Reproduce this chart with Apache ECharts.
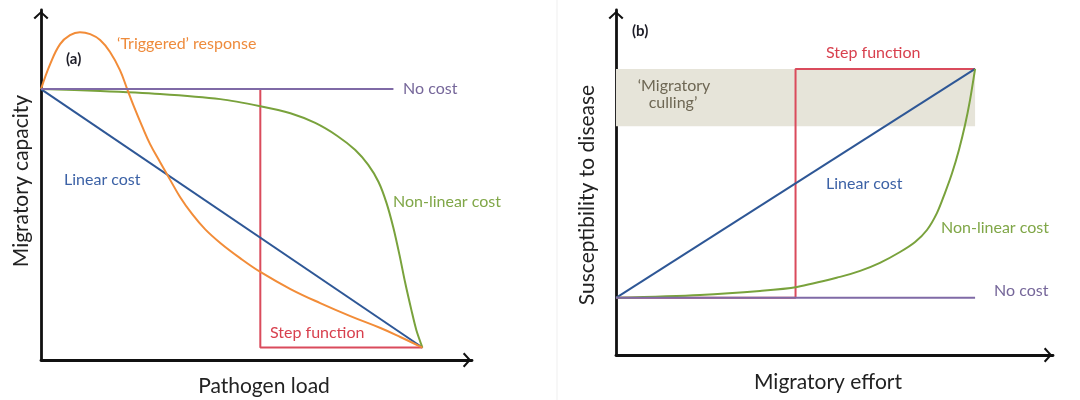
<!DOCTYPE html>
<html>
<head>
<meta charset="utf-8">
<script src="https://cdn.jsdelivr.net/npm/echarts@6.0.0/dist/echarts.min.js"></script>
<style>
  html, body { margin: 0; padding: 0; background: #fff; }
  #chart { width: 1080px; height: 400px; }
</style>
</head>
<body>
<div id="chart"></div>
<script>
// ---- Panel (a): migratory capacity against pathogen load ----
const aNoCost     = [[0, 10], [9.24, 10]];
const aLinear     = [[0, 10], [10, 0.46]];
const aStep       = [[5.75, 10], [5.75, 0.46], [10, 0.46]];
const aNonLinear  = [[0, 10], [1.55, 9.93], [3.12, 9.82], [4.7, 9.63], [5.75, 9.37], [6.54, 9.11],
                     [7.19, 8.75], [7.77, 8.27], [8.24, 7.75], [8.58, 7.2], [8.85, 6.57], [9.06, 5.79],
                     [9.24, 4.87], [9.4, 3.87], [9.55, 2.84], [9.71, 1.85], [9.84, 1.11], [10, 0.46]];
const aTriggered  = [[0, 10], [0.24, 10.92], [0.5, 11.66], [0.76, 11.99], [1.02, 12.1], [1.29, 12.03],
                     [1.55, 11.81], [1.81, 11.37], [2.07, 10.7], [2.26, 10.0], [2.44, 9.34], [2.65, 8.63],
                     [2.86, 7.97], [3.12, 7.31], [3.39, 6.64], [3.65, 6.01], [3.96, 5.39], [4.3, 4.83],
                     [4.7, 4.32], [5.22, 3.76], [5.75, 3.25], [6.54, 2.62], [7.32, 2.1], [8.11, 1.62],
                     [8.9, 1.18], [9.42, 0.85], [10, 0.46]];

// ---- Panel (b): susceptibility to disease against migratory effort ----
const bNoCost     = [[0, 2], [10, 2]];
const bLinear     = [[0, 2], [10, 10]];
const bStep       = [[0, 2], [5, 2], [5, 10], [10, 10]];
const bNonLinear  = [[0, 2], [2.34, 2.1], [4.01, 2.24], [5.04, 2.38], [6.24, 2.73], [6.8, 2.94],
                     [7.35, 3.22], [7.91, 3.6], [8.33, 3.95], [8.66, 4.37], [8.94, 4.97], [9.16, 5.66],
                     [9.36, 6.36], [9.55, 7.17], [9.72, 8.04], [9.86, 8.92], [10, 10]];
const bCullingX   = [0, 10];
const bCullingY   = [8, 10];

const COLORS = {
  orange: '#F28C38', purple: '#7F6AA6', blue: '#2E5796', green: '#79A23C', red: '#DA4B5C',
  band: '#E6E4D9', axis: '#111'
};
const TEXT = {
  orange: '#EE8B3C', purple: '#76679A', blue: '#3C62A6', green: '#80A748', red: '#D8404E',
  culling: '#6E6754', dark: '#1E1E28', title: '#222'
};

const FONT = 'Lato, "Open Sans", sans-serif';
// open chevron arrow head, pointing up in its own frame
const ARROW = 'path://M0,9 L10,0 L20,9 L18,11 L10,3.6 L2,11 Z';

function axis(gridIndex, max) {
  return {
    type: 'value', gridIndex, min: 0, max,
    axisLine: {
      show: true, onZero: false,
      lineStyle: { color: COLORS.axis, width: 2.8 },
      symbol: ['none', ARROW], symbolSize: [15, 10], symbolOffset: [0, -5]
    },
    axisTick: { show: false }, axisLabel: { show: false }, splitLine: { show: false }
  };
}

function line(name, data, color, xi, extra) {
  return Object.assign({
    type: 'line', name, data, xAxisIndex: xi, yAxisIndex: xi,
    showSymbol: false, symbol: 'none', silent: true,
    lineStyle: { color, width: 2 }, animation: false
  }, extra || {});
}

function label(x, y, text, color, opts) {
  return {
    type: 'text', x, y, z: 100,
    style: Object.assign({
      text, fill: color, font: '16px ' + FONT, align: 'left', verticalAlign: 'middle'
    }, opts || {})
  };
}

function title(x, y, text, vertical) {
  return {
    type: 'text', x, y, z: 100, rotation: vertical ? Math.PI / 2 : 0,
    style: { text, fill: TEXT.title, font: '21px ' + FONT, align: 'center', verticalAlign: 'middle' }
  };
}

const chart = echarts.init(document.getElementById('chart'), null, { renderer: 'canvas' });

chart.setOption({
  backgroundColor: '#fff',
  animation: false,
  grid: [
    { left: 41, top: 10, width: 431, height: 350 },
    { left: 616, top: 10, width: 437, height: 345 }
  ],
  xAxis: [axis(0, 11.3), axis(1, 12.17)],
  yAxis: [axis(0, 12.92), axis(1, 12.06)],
  series: [
    // panel (a)
    line('Step function', aStep, COLORS.red, 0),
    line('Linear cost', aLinear, COLORS.blue, 0),
    line('Non-linear cost', aNonLinear, COLORS.green, 0, { smooth: 0.3 }),
    line('Triggered response', aTriggered, COLORS.orange, 0, { smooth: 0.4, smoothConstraint: false }),
    line('No cost', aNoCost, COLORS.purple, 0),
    // panel (b)
    line('Step function', bStep, COLORS.red, 1, {
      markArea: {
        silent: true, itemStyle: { color: COLORS.band },
        data: [[{ coord: [bCullingX[0], bCullingY[0]] }, { coord: [bCullingX[1], bCullingY[1]] }]]
      },
      z: 2
    }),
    line('Linear cost', bLinear, COLORS.blue, 1, { z: 3 }),
    line('Non-linear cost', bNonLinear, COLORS.green, 1, { smooth: 0.3, z: 3 }),
    line('No cost', bNoCost, COLORS.purple, 1, { z: 4 })
  ],
  graphic: [
    // faint panel divider
    { type: 'line', z: 0, shape: { x1: 557, y1: 0, x2: 557, y2: 400 }, style: { stroke: '#efefef', lineWidth: 1 } },
    // axis titles
    title(264, 386, 'Pathogen load'),
    title(21, 181, 'Migratory capacity', true),
    title(828, 382, 'Migratory effort'),
    title(587, 195, 'Susceptibility to disease', true),
    // panel (a) labels
    label(66, 59, '(a)', TEXT.dark, { font: 'bold 15px ' + FONT }),
    label(117, 44, '\u2018Triggered\u2019 response', TEXT.orange),
    label(403, 89, 'No cost', TEXT.purple),
    label(64, 180, 'Linear cost', TEXT.blue),
    label(393, 202, 'Non-linear cost', TEXT.green),
    label(270, 333, 'Step function', TEXT.red),
    // panel (b) labels
    label(632, 31, '(b)', TEXT.dark, { font: 'bold 15px ' + FONT }),
    label(826, 53, 'Step function', TEXT.red),
    label(674, 86, '\u2018Migratory', TEXT.culling, { align: 'center' }),
    label(673, 103, 'culling\u2019', TEXT.culling, { align: 'center' }),
    label(826, 184, 'Linear cost', TEXT.blue),
    label(941, 228, 'Non-linear cost', TEXT.green),
    label(994, 291, 'No cost', TEXT.purple)
  ]
});
</script>
</body>
</html>
